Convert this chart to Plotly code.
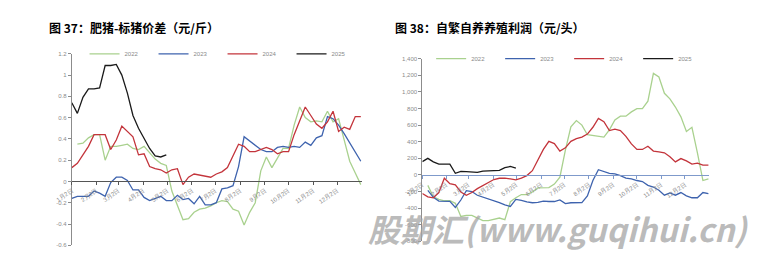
import pandas as pd
import plotly.graph_objects as go

# ---------------- data ----------------
weeks = pd.date_range("2022-01-02", periods=53, freq="7D")
years = ["2022", "2023", "2024", "2025"]
colors = {"2022": "#A9D18E", "2023": "#3E63AE", "2024": "#C3343B", "2025": "#1A1A1A"}

month_ticks = pd.to_datetime([f"2022-{m:02d}-02" for m in range(1, 13)])
month_labels = [f"{m}月2日" for m in range(1, 13)]

# Chart 37: fat pig - standard pig spread (yuan/jin)
spread_2022 = [None, 0.35, 0.36, 0.41, 0.44, 0.44, 0.20, 0.33, 0.33, 0.34, 0.35, 0.31, 0.30, 0.33,
               0.27, 0.21, 0.17, 0.15, -0.09, -0.22, -0.36, -0.35, -0.29, -0.26, -0.25, -0.23, -0.20,
               -0.18, -0.19, -0.26, -0.28, -0.41, -0.29, -0.20, 0.10, 0.23, 0.13, 0.22, 0.31, 0.31,
               0.53, 0.70, 0.60, 0.56, 0.57, 0.56, 0.66, 0.56, 0.59, 0.39, 0.19, 0.08, -0.03]
spread_2023 = [-0.16, -0.14, -0.14, -0.14, -0.09, -0.11, -0.14, -0.01, 0.04, 0.04, 0.01, -0.08, -0.08,
               -0.15, -0.18, -0.16, -0.14, -0.18, -0.18, -0.13, -0.17, -0.16, -0.21, -0.14, -0.22,
               -0.22, -0.20, -0.07, -0.06, -0.04, 0.14, 0.42, 0.38, 0.34, 0.30, 0.28, 0.28, 0.32,
               0.33, 0.32, 0.33, 0.32, 0.37, 0.34, 0.41, 0.43, 0.61, 0.59, 0.53, 0.45, 0.36, 0.28, 0.19]
spread_2024 = [0.13, 0.17, 0.25, 0.33, 0.44, 0.44, 0.44, 0.30, 0.39, 0.52, 0.47, 0.42, 0.25, 0.26,
               0.14, 0.12, 0.11, 0.08, 0.11, 0.12, -0.03, 0.04, 0.07, 0.06, 0.05, 0.04, 0.07, 0.09,
               0.13, 0.24, 0.35, 0.33, 0.28, 0.28, 0.30, 0.32, 0.30, 0.26, 0.28, 0.28, 0.44, 0.57,
               0.70, 0.62, 0.54, 0.50, 0.56, 0.66, 0.47, 0.51, 0.49, 0.61, 0.61]
spread_2025 = [0.74, 0.64, 0.79, 0.87, 0.87, 0.88, 1.09, 1.09, 1.10, 1.00, 0.83, 0.62, 0.50, 0.40,
               0.31, 0.24, 0.23, 0.25]

# Chart 38: self-breeding profit (yuan/head)
profit_2022 = [None, -126, -264, -295, -311, -311, -342, -500, -488, -488, -519, -551, -551, -531,
               -519, -539, -323, -275, -236, -236, -205, -157, -153, -153, -110, -27, 300, 580, 655,
               600, 484, 476, 464, 456, 543, 661, 708, 708, 759, 798, 798, 889, 1223, 1180, 983,
               916, 818, 700, 523, 574, 267, -67, -47]
profit_2023 = [None, -185, -270, -315, -320, -318, -392, -302, -190, -200, -245, -265, -285, -310,
               -333, -360, -380, -295, -305, -325, -335, -330, -315, -320, -320, -300, -345, -335,
               -330, -334, -252, -67, 63, 39, 20, 12, -8, -39, -47, -67, -79, -126, -146, -185,
               -244, -216, -244, -212, -252, -275, -275, -212, -224]
profit_2024 = [-224, -264, -275, -212, -39, -106, -120, -205, -245, -212, -165, -126, -85, -55, -40,
               -39, -47, -59, -39, -8, 51, 189, 307, 405, 378, 287, 326, 405, 437, 456, 492, 574,
               680, 641, 535, 551, 535, 464, 374, 307, 307, 346, 287, 279, 267, 220, 157, 197, 169,
               130, 142, 118, 118]
profit_2025 = [161, 200, 157, 130, 130, 130, 20, 43, 39, 31, 31, 47, 47, 47, 55, 87, 102, 83]

left_ticks = [-0.6, -0.4, -0.2, 0, 0.2, 0.4, 0.6, 0.8, 1, 1.2]
left_ticktext = ["-0.6", "-0.4", "-0.2", "0", "0.2", "0.4", "0.6", "0.8", "1", "1.2"]
right_ticks = [-800, -600, -400, -200, 0, 200, 400, 600, 800, 1000, 1200, 1400]
right_ticktext = ["-800", "-600", "-400", "-200", "0", "200", "400", "600", "800",
                  "1,000", "1,200", "1,400"]

# ---------------- figure ----------------
W, H = 766, 260
fig = go.Figure()

left_series = {"2022": spread_2022, "2023": spread_2023, "2024": spread_2024, "2025": spread_2025}
right_series = {"2022": profit_2022, "2023": profit_2023, "2024": profit_2024, "2025": profit_2025}

for y in years:
    vals = left_series[y]
    fig.add_trace(go.Scatter(x=weeks[:len(vals)], y=vals, mode="lines", name=y,
                             line=dict(color=colors[y], width=1.3),
                             xaxis="x", yaxis="y", legend="legend"))
for y in years:
    vals = right_series[y]
    fig.add_trace(go.Scatter(x=weeks[:len(vals)], y=vals, mode="lines", name=y,
                             line=dict(color=colors[y], width=1.3),
                             xaxis="x2", yaxis="y2", legend="legend2"))

def px_x(p):
    return p / W

def px_y(p):
    return 1 - p / H

tickfont = dict(family="Liberation Sans, Arial, sans-serif", size=6, color="#8a8a8a")
legfont = dict(family="Liberation Sans, Arial, sans-serif", size=6, color="#8a8a8a")
xr = ["2022-01-02", "2023-01-02"]

fig.update_layout(
    width=W, height=H,
    margin=dict(l=0, r=0, t=0, b=0),
    paper_bgcolor="white", plot_bgcolor="white",
    showlegend=True,
    xaxis=dict(domain=[px_x(57), px_x(353)], range=xr, type="date",
               anchor="free", position=px_y(182),
               tickvals=month_ticks, ticktext=month_labels, tickangle=-35,
               showline=True, linecolor="#555555", linewidth=1,
               ticks="outside", ticklen=3, tickcolor="#555555",
               showgrid=False, zeroline=False, tickfont=tickfont),
    yaxis=dict(domain=[px_y(248), px_y(52)], range=[-0.6, 1.2],
               tickvals=left_ticks, ticktext=left_ticktext,
               showline=True, linecolor="#8c8c8c", linewidth=1,
               ticks="outside", ticklen=3, tickcolor="#8c8c8c",
               showgrid=False, zeroline=False, tickfont=tickfont, anchor="x"),
    xaxis2=dict(domain=[px_x(415), px_x(708)], range=xr, type="date",
                anchor="free", position=px_y(176),
                tickvals=month_ticks, ticktext=month_labels, tickangle=-35,
                showline=True, linecolor="#7f9acb", linewidth=1.2,
                ticks="outside", ticklen=3, tickcolor="#7f9acb",
                showgrid=False, zeroline=False, tickfont=tickfont),
    yaxis2=dict(domain=[px_y(244), px_y(57)], range=[-800, 1400],
                tickvals=right_ticks, ticktext=right_ticktext,
                showline=True, linecolor="#8c8c8c", linewidth=1,
                ticks="outside", ticklen=3, tickcolor="#8c8c8c",
                showgrid=False, zeroline=False, tickfont=tickfont, anchor="x2"),
    legend=dict(orientation="h", x=px_x(70), y=px_y(52), xanchor="left", yanchor="middle",
                entrywidth=24, entrywidthmode="pixels", itemwidth=30,
                font=legfont, bgcolor="rgba(0,0,0,0)", tracegroupgap=0),
    legend2=dict(orientation="h", x=px_x(424), y=px_y(57), xanchor="left", yanchor="middle",
                 entrywidth=24, entrywidthmode="pixels", itemwidth=30,
                 font=legfont, bgcolor="rgba(0,0,0,0)", tracegroupgap=0),
)

title_font = dict(family="Noto Sans CJK SC, sans-serif", size=12, color="#000000")
fig.add_annotation(text="<b>图 37：肥猪-标猪价差（元/斤）</b>", x=px_x(32), y=px_y(25),
                   xref="paper", yref="paper", xanchor="left", yanchor="middle",
                   showarrow=False, font=title_font)
fig.add_annotation(text="<b>图 38：自繁自养养殖利润（元/头）</b>", x=px_x(385), y=px_y(25),
                   xref="paper", yref="paper", xanchor="left", yanchor="middle",
                   showarrow=False, font=title_font)
fig.add_annotation(text="<b><i>股期汇(www.guqihui.cn)</i></b>", x=px_x(751), y=px_y(230),
                   xref="paper", yref="paper", xanchor="right", yanchor="middle",
                   showarrow=False,
                   font=dict(family="Noto Sans CJK SC, DejaVu Sans, sans-serif", size=32,
                             color="rgba(165,165,165,0.75)"))

fig.write_html("out.html")
